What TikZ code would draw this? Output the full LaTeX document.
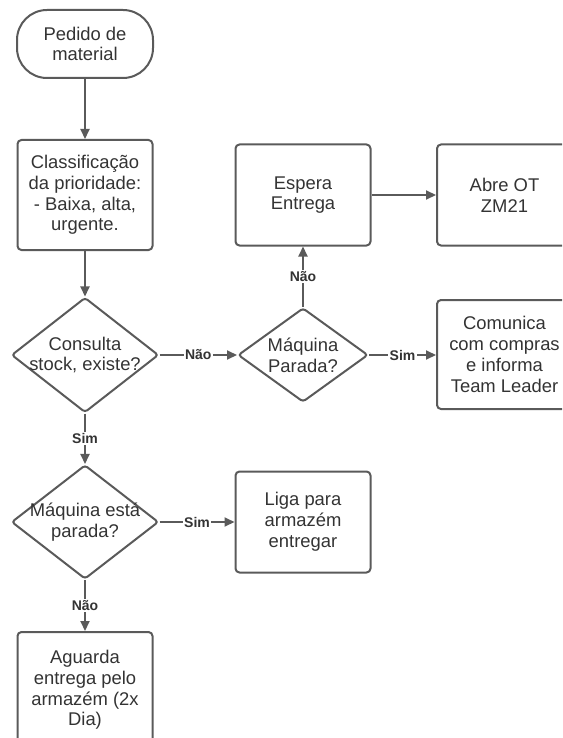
\documentclass[tikz,border=0pt]{standalone}
\usepackage{fontspec}
\setmainfont{Liberation Sans}
\usetikzlibrary{arrows.meta, shapes.geometric}
\definecolor{linecol}{HTML}{5A5A5A}
\definecolor{textcol}{HTML}{333333}

\begin{document}
\begin{tikzpicture}[
    x=1pt, y=-1pt,
    every node/.style={font=\fontsize{18.4}{20.8}\selectfont, text=textcol, align=center},
    term/.style={draw=linecol, line width=2pt, rounded corners=30pt,
        minimum width=136pt, minimum height=68pt, inner sep=0pt},
    box/.style={draw=linecol, line width=2pt, rounded corners=4pt,
        minimum width=135pt, minimum height=101pt, inner sep=0pt},
    decision/.style={diamond, draw=linecol, line width=2pt, rounded corners=3pt,
        aspect=1.3, inner sep=-6pt},
    flow/.style={draw=linecol, line width=2pt, -{Triangle[length=10pt, width=9pt]}},
    ans/.style={font=\fontsize{14}{15}\selectfont\bfseries, fill=white, inner sep=1.5pt},
]

\useasboundingbox (0,0) rectangle (562,738);
\clip (0,0) rectangle (562,738);

% ---------------------------------------------------------------- left column
\node[term] (pedido) at (85,44) {Pedido de\\material};
\node[box, minimum height=110pt] (classif) at (85,195)
    {Classificação\\da prioridade:\\- Baixa, alta,\\urgente.};
\node[decision, minimum width=147pt, minimum height=115pt] (stock) at (85,355)
    {Consulta\\stock, existe?};
\node[decision, minimum width=147pt, minimum height=114pt] (parada) at (85,522)
    {Máquina está\\parada?};
\node[box, minimum height=116pt] (aguarda) at (85,690)
    {Aguarda\\entrega pelo\\armazém (2x\\Dia)};

% ---------------------------------------------------------------- right side
\node[decision, minimum width=130pt, minimum height=94pt] (maquina) at (303,355)
    {Máquina\\Parada?};
\node[box] (espera) at (303,195) {Espera\\Entrega};
\node[box] (abre) at (504.5,195) {Abre OT\\ZM21};
\node[box, minimum height=109pt] (comunica) at (504.5,354.5)
    {Comunica\\com compras\\e informa\\Team Leader};
\node[box] (liga) at (303,522) {Liga para\\armazém\\entregar};

% ---------------------------------------------------------------- connectors
\draw[flow] (pedido) -- (classif);
\draw[flow] (classif) -- (stock);
\draw[flow] (stock) -- node[ans] {Não} (maquina);
\draw[flow] (stock) -- node[ans] {Sim} (parada);
\draw[flow] (maquina) -- node[ans] {Não} (espera);
\draw[flow] (maquina) -- node[ans] {Sim} (comunica.west |- maquina);
\draw[flow] (espera) -- (abre);
\draw[flow] (parada) -- node[ans] {Sim} (liga);
\draw[flow] (parada) -- node[ans] {Não} (aguarda);

\end{tikzpicture}
\end{document}
